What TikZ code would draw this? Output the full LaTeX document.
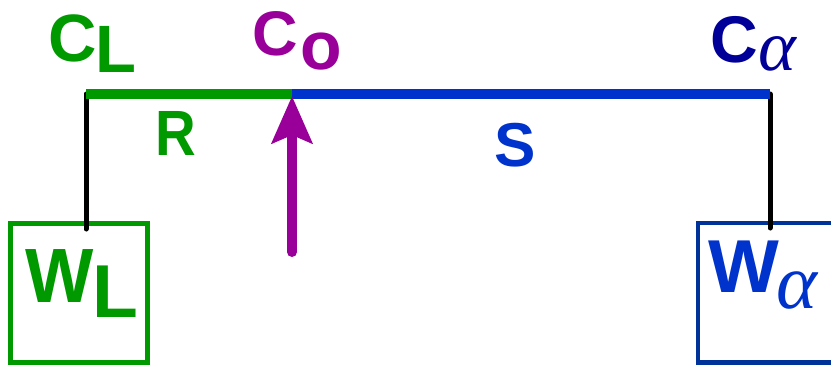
\documentclass[tikz,border=0pt]{standalone}
\usepackage{fontspec}
\setmainfont{Liberation Sans}
\newfontfamily\serifit{Liberation Serif}
\usetikzlibrary{arrows.meta}
\definecolor{cgreen}{HTML}{009900}
\definecolor{cpurple}{HTML}{990099}
\definecolor{cblue}{HTML}{0033CC}
\definecolor{cnavy}{HTML}{000099}
\definecolor{cboxblue}{HTML}{003399}
\newcommand{\fsz}[1]{\fontsize{#1}{#1}\selectfont}
\begin{document}
\begin{tikzpicture}[x=1pt,y=-1pt,
  lbl/.style={inner sep=0pt,outer sep=0pt,anchor=base west},
  beam/.style={line width=10pt},
  hanger/.style={line width=5pt,line cap=round,black},
  box/.style={draw,line width=4.5pt,inner sep=0pt}]
\useasboundingbox (0,0) rectangle (831,365);
% points
\coordinate (cl) at (86,94);
\coordinate (co) at (292,94);
\coordinate (ca) at (770,94);
\coordinate (cl0) at (86,229);
\coordinate (ca0) at (770,228);
\coordinate (push) at (292,252);
\coordinate (tip) at (292,96);
% boxes
\node[box,cgreen,minimum width=137pt,minimum height=139pt] (wlbox) at (79,293) {};
\node[box,cboxblue,minimum width=142pt,minimum height=139.5pt] (wabox) at (769,292.75) {};
% hangers
\draw[hanger] (cl) -- (cl0);
\draw[hanger] (ca) -- (ca0);
% beams
\draw[beam,cblue] (co) -- (ca);
\draw[beam,cgreen] (co) -- (cl);
% arrow
\draw[line width=10pt,cpurple,line cap=round,-{Stealth[length=47pt,width=40pt,inset=8pt]}] (push) -- (tip);
% labels
\node[lbl,cgreen,font=\bfseries\fsz{67}] (cltxt) at (48.7,61) {C};
\node[lbl,cgreen,font=\bfseries\fsz{67}] (clsub) at (95,72) {L};
\node[lbl,cpurple,font=\bfseries\fsz{63}] (cotxt) at (252,55) {C};
\node[lbl,cpurple,font=\bfseries\fsz{68}] (cosub) at (300,69) {o};
\node[lbl,cnavy,font=\bfseries\fsz{66}] (catxt) at (710,62) {C};
\node[lbl,cnavy,font=\serifit\itshape\fsz{72}] (casub) at (758,70) {α};
\node[lbl,cgreen,font=\bfseries\fsz{64},xscale=0.88] (rtxt) at (155,155) {R};
\node[lbl,cblue,font=\bfseries\fsz{62}] (stxt) at (494.5,166) {S};
\node[lbl,cgreen,font=\bfseries\fsz{77},xscale=0.94] (wltxt) at (25,302) {W};
\node[lbl,cgreen,font=\bfseries\fsz{75}] (wlsub) at (92.5,317) {L};
\node[lbl,cblue,font=\bfseries\fsz{75}] (watxt) at (708,292) {W};
\node[lbl,cblue,font=\serifit\itshape\fsz{78}] (wasub) at (776,308) {α};
\end{tikzpicture}
\end{document}
